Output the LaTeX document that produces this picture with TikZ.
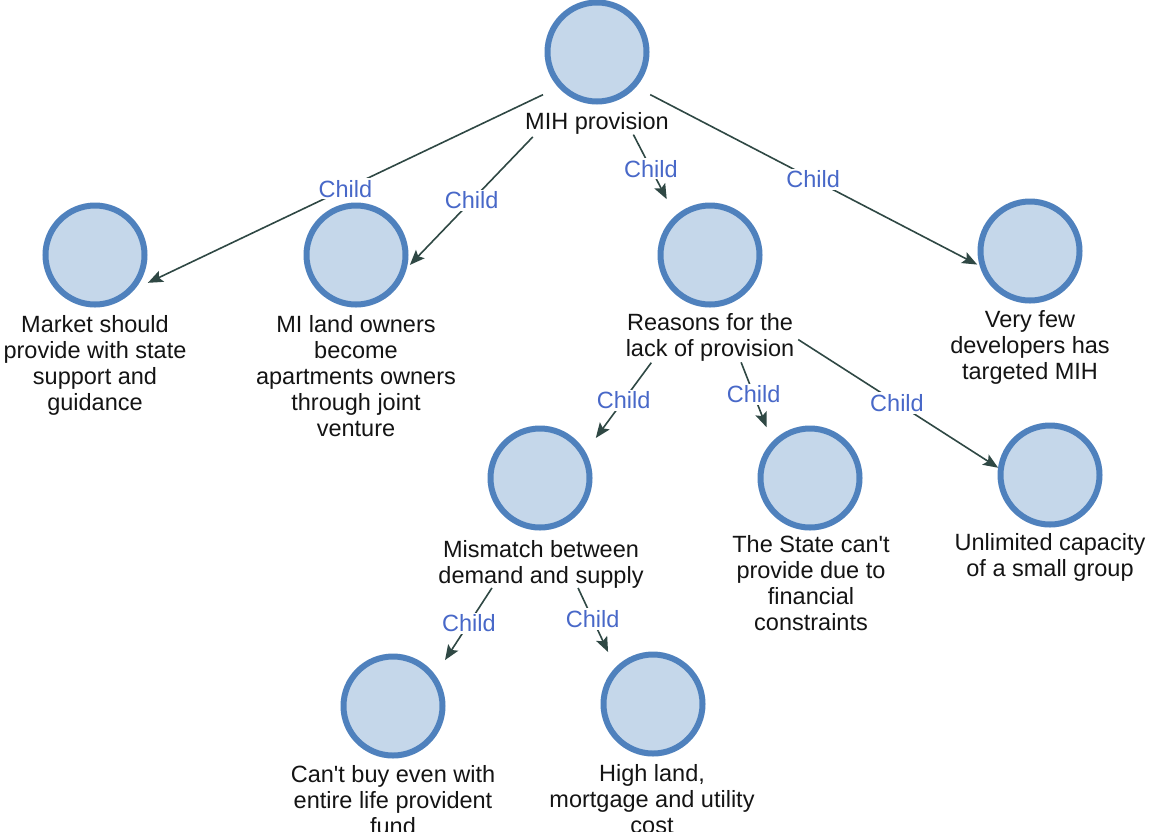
\documentclass[tikz,border=0pt]{standalone}
\usepackage{fontspec}
\setmainfont{Liberation Sans}
\usetikzlibrary{arrows.meta}

\definecolor{ringblue}{RGB}{79,129,189}
\definecolor{discfill}{RGB}{197,215,234}
\definecolor{tagblue}{RGB}{72,104,200}
\definecolor{wire}{RGB}{47,72,68}
\definecolor{ink}{RGB}{20,20,20}

\begin{document}
\begin{tikzpicture}[x=1pt,y=-1pt,
  disc/.style={circle, draw=ringblue, fill=discfill, line width=6pt,
               minimum size=99pt, inner sep=0pt},
  caption/.style={anchor=north, align=center, inner sep=0pt, text=ink,
                  font=\fontsize{23.5}{26}\selectfont},
  tag/.style={fill=white, inner sep=2pt, text=tagblue,
              font=\fontsize{23.5}{26}\selectfont},
  link/.style={draw=wire, line width=1.6pt,
               -{Stealth[length=15pt,width=12pt,inset=3pt]}},
]
% canvas
\fill[white] (0,0) rectangle (1150,831);
\useasboundingbox (0,0) rectangle (1150,831);

% circles
\node[disc] (mih)       at (597,52)  {};
\node[disc] (market)    at (95,255)  {};
\node[disc] (miland)    at (356,255) {};
\node[disc] (reasons)   at (710,255) {};
\node[disc] (veryfew)   at (1030,251) {};
\node[disc] (mismatch)  at (540,478) {};
\node[disc] (state)     at (810,478) {};
\node[disc] (unlimited) at (1050,475) {};
\node[disc] (cantbuy)   at (393,706) {};
\node[disc] (highland)  at (653,704) {};

% captions
\node[caption] (mih-t)       at (597,112) {MIH provision};
\node[caption] (market-t)    at (95,315)  {Market should\\provide with state\\support and\\guidance};
\node[caption] (miland-t)    at (356,315) {MI land owners\\become\\apartments owners\\through joint\\venture};
\node[caption] (reasons-t)   at (710,313) {Reasons for the\\lack of provision};
\node[caption] (veryfew-t)   at (1030,310) {Very few\\developers has\\targeted MIH};
\node[caption] (mismatch-t)  at (541,540) {Mismatch between\\demand and supply};
\node[caption] (state-t)     at (811,535) {The State can\textquotesingle t\\provide due to\\financial\\constraints};
\node[caption] (unlimited-t) at (1050,533) {Unlimited capacity\\of a small group};
\node[caption] (cantbuy-t)   at (393,765) {Can\textquotesingle t buy even with\\entire life provident\\fund};
\node[caption] (highland-t)  at (652,764) {High land,\\mortgage and utility\\cost};

% group centres (circle plus caption) the connectors run between
\coordinate (mih-c)       at (599,68);
\coordinate (market-c)    at (95,308);
\coordinate (miland-c)    at (356,321);
\coordinate (reasons-c)   at (710,283);
\coordinate (veryfew-c)   at (1030,292);
\coordinate (mismatch-c)  at (542,511);
\coordinate (state-c)     at (810,538);
\coordinate (unlimited-c) at (1050,501);
\coordinate (cantbuy-c)   at (393,740);
\coordinate (highland-c)  at (653,748);

% connectors
\draw[link, shorten <=62pt, shorten >=58.6pt]
  (mih-c) -- node[tag, pos=0.503] {Child} (market-c);
\draw[link, shorten <=95.5pt, shorten >=77.8pt]
  (mih-c) -- node[tag, pos=0.524] {Child} (miland-c);
\draw[link, shorten <=75pt, shorten >=94.4pt]
  (mih-c) -- node[tag, pos=0.468] {Child} (reasons-c);
\draw[link, shorten <=57.7pt, shorten >=59.5pt]
  (mih-c) -- node[tag, pos=0.497] {Child} (veryfew-c);
\draw[link, shorten <=99pt, shorten >=90.7pt]
  (reasons-c) -- node[tag, pos=0.514] {Child} (mismatch-c);
\draw[link, shorten <=85.2pt, shorten >=119pt]
  (reasons-c) -- node[tag, pos=0.437] {Child} (state-c);
\draw[link, shorten <=104.8pt, shorten >=61.6pt]
  (reasons-c) -- node[tag, pos=0.55] {Child} (unlimited-c);
\draw[link, shorten <=91.8pt, shorten >=95.4pt]
  (mismatch-c) -- node[tag, pos=0.491] {Child} (cantbuy-c);
\draw[link, shorten <=85pt, shorten >=106pt]
  (mismatch-c) -- node[tag, pos=0.456] {Child} (highland-c);
\end{tikzpicture}
\end{document}
